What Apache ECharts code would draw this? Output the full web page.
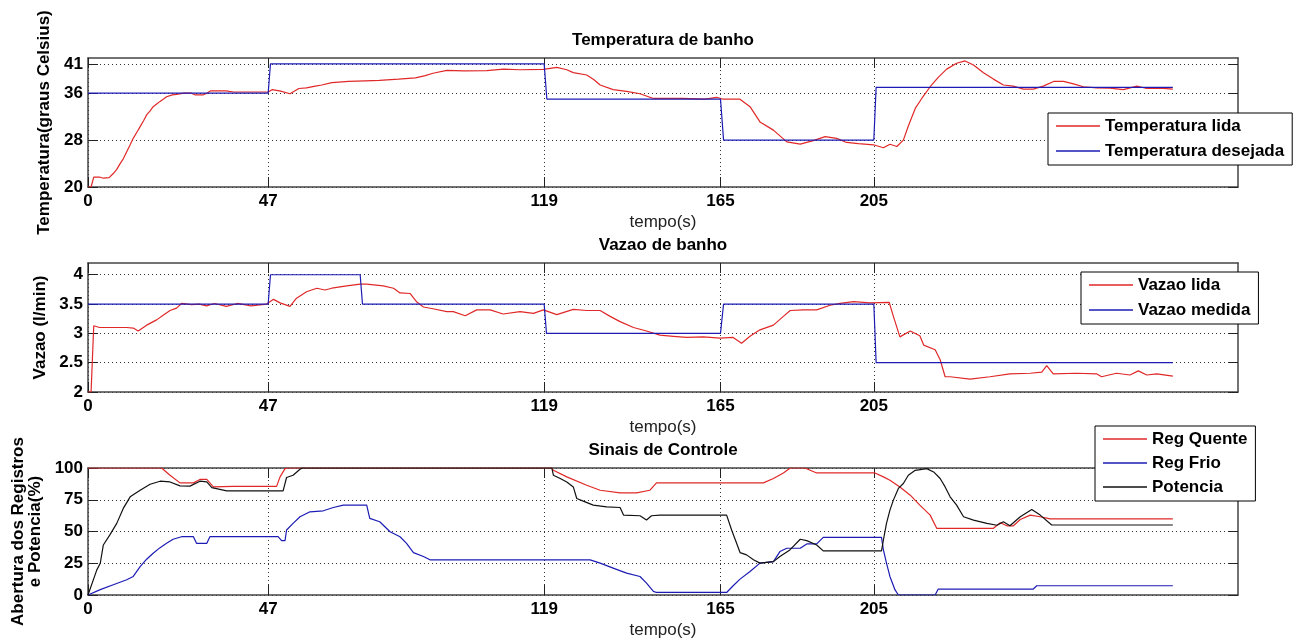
<!DOCTYPE html>
<html><head><meta charset="utf-8">
<script src="https://cdn.jsdelivr.net/npm/echarts@6/dist/echarts.min.js"></script>
<style>html,body{margin:0;padding:0;background:#fff}#c{width:1303px;height:644px}</style>
</head><body><div id="c"></div>
<script>
// ---- tick values ----
const xTicks = [0, 47, 119, 165, 205];
const yTicksTemp = [20, 28, 36, 41];
const yTicksVazao = [2, 2.5, 3, 3.5, 4];
const yTicksCtrl = [0, 25, 50, 75, 100];

// ---- Temperatura de banho ----
const tempLida = [[0,20],[0.8,20],[1.5,21.7],[3,21.7],[4,21.5],[5.5,21.6],[6.6,22.3],[7.5,23],[8.3,23.9],[9.2,24.8],[10.1,26],[11,27.2],[11.8,28.3],[12.7,29.3],[13.6,30.3],[14.5,31.3],[15.3,32.3],[16.2,33],[17,33.7],[18,34.2],[18.8,34.6],[19.7,35],[20.5,35.4],[22,35.7],[23.1,35.8],[25,36],[27,36],[28,35.7],[30,35.7],[31,36],[32,36.4],[36,36.4],[38,36.2],[47,36.2],[48,36.6],[50,36.4],[52.7,35.9],[55,36.8],[57,36.9],[59.3,37.2],[61,37.4],[63.6,37.8],[68,38],[72.3,38.1],[76,38.2],[81,38.4],[85.4,38.6],[88,39],[90,39.4],[93.6,39.9],[98,39.8],[104,39.85],[108.4,40.1],[112.7,40],[118.8,40.05],[122.3,40.4],[124.9,40],[126.6,39.5],[130.1,39.1],[132,38.3],[133.6,37.4],[137,36.6],[140.5,36.3],[144,35.9],[147.5,35.1],[155,35.1],[161,35],[164,35.3],[165.5,35],[170,35],[172.7,33.7],[175.3,31.1],[178.8,29.7],[182.3,27.7],[185.8,27.3],[189.2,27.9],[192.3,28.6],[195.3,28.3],[197.9,27.6],[201,27.4],[204.9,27.2],[207.5,26.7],[209.2,27.3],[211,26.9],[212.7,28],[214,30.4],[215.8,33.4],[217.5,35.1],[219.7,37.1],[221.8,38.7],[224,40.1],[226.6,41.1],[228.8,41.5],[231,40.8],[233.6,39.5],[236.2,38.4],[238.8,37.4],[241.4,37.2],[244,36.7],[246.6,36.7],[249.2,37.2],[251.9,38],[254.5,38],[257.1,37.6],[259.7,37.1],[263.1,36.9],[266.6,36.85],[270.1,36.6],[273.6,37.2],[276.2,36.8],[279.7,36.85],[283,36.7]];
const tempDesejada = [[0,36],[47,36],[47.6,41],[119,41],[119.7,35],[165,35],[165.8,28],[205,28],[205.6,37],[283,37]];

// ---- Vazao de banho ----
const vazaoLida = [[0,2],[0.8,2],[1.5,3.13],[3,3.1],[4.9,3.1],[10.1,3.1],[11.8,3.09],[13.1,3.04],[15.3,3.14],[17.9,3.23],[19.6,3.31],[21.4,3.39],[23.1,3.43],[24.4,3.51],[27,3.49],[29,3.5],[30.9,3.47],[33,3.51],[36.1,3.46],[39,3.51],[42.5,3.47],[46.6,3.5],[48.4,3.58],[50.1,3.52],[52.7,3.46],[54.4,3.6],[57,3.71],[59.7,3.77],[61.8,3.74],[63.6,3.77],[67.5,3.81],[71,3.84],[72.7,3.84],[77,3.81],[79.7,3.77],[81.4,3.69],[84,3.68],[85.7,3.54],[87.5,3.45],[90,3.42],[93.6,3.37],[95.3,3.37],[98.4,3.3],[101.4,3.4],[104.9,3.4],[108.3,3.33],[112.7,3.37],[116.2,3.34],[118.8,3.4],[122.3,3.32],[126.6,3.41],[130.1,3.39],[133.6,3.39],[136.2,3.29],[138.8,3.2],[142.3,3.1],[145.7,3.04],[149.2,2.97],[152.7,2.95],[156.2,2.93],[160.5,2.94],[164.9,2.92],[168.3,2.93],[170.5,2.83],[172.7,2.95],[175.3,3.06],[178.8,3.14],[181.4,3.29],[183.2,3.39],[186.6,3.4],[190.1,3.4],[193.6,3.48],[196.2,3.51],[199.7,3.54],[204,3.52],[209,3.53],[210.1,3.29],[211.8,2.94],[214.5,3.04],[217,2.96],[218,2.8],[221,2.72],[222.3,2.55],[223.6,2.26],[224.9,2.26],[230.1,2.22],[235.3,2.26],[240.5,2.31],[245.8,2.32],[248.8,2.34],[250.1,2.45],[251.8,2.31],[257.9,2.32],[263.1,2.31],[264.4,2.26],[268.3,2.32],[271.8,2.29],[274,2.36],[276.2,2.29],[278.8,2.31],[283,2.27]];
const vazaoMedida = [[0,3.5],[47,3.5],[47.6,4],[71,4],[71.6,3.5],[119,3.5],[119.6,3],[165,3],[165.8,3.5],[205,3.5],[205.6,2.5],[283,2.5]];

// ---- Sinais de Controle ----
const regQuente = [[0,100],[19.2,100],[21.4,94.3],[24,88.3],[27.5,88.3],[29.2,91],[31,91],[32.7,85.1],[37.9,85.5],[49.2,85.5],[50.1,93],[51.4,99.5],[52,100],[121,100],[121.4,98.2],[124.9,93],[130.1,86.4],[133.6,82.5],[138.8,80.4],[143.1,80.4],[146.6,82.5],[148.3,88.3],[176.2,88.3],[178.8,91.7],[181.4,96.1],[183.2,100],[187,100],[190.1,96.1],[205.3,96.1],[207.5,93],[209.2,90.4],[211.8,85.1],[214.5,78.6],[217,70.8],[219.7,62.9],[221.4,52.5],[236.2,52.5],[238,56.9],[239.7,54.5],[241.4,54.5],[243.2,59.5],[245.8,62.9],[248.4,61.6],[251,60],[283,60]];
const regFrio = [[0,0],[0.5,0],[3.2,4.2],[6.6,8.1],[10.1,12],[11.8,14.6],[13.6,22.4],[15.3,28.2],[17,32.9],[18.8,37.3],[20.5,40.7],[22.2,43.9],[24.4,45.9],[27.5,45.9],[28.3,40.7],[31,40.7],[31.8,45.9],[49.6,45.9],[50.5,42.8],[51.4,42.8],[51.8,51.2],[53.5,56.4],[55.3,61.6],[57.9,65.5],[61.4,66.3],[64,68.9],[66.6,70.8],[72.7,70.8],[73.5,60.3],[76.1,57.7],[78.8,49.8],[81.4,45.9],[83.1,40.7],[84.9,33.4],[87.5,30.3],[89.2,27.7],[131,27.7],[133.6,25.1],[137,21.2],[140.5,17.2],[144,14.6],[145.7,9.4],[147.5,2.8],[148.3,2],[166.6,2],[168.3,7.3],[170.1,12.5],[172.7,18.5],[175.3,25.1],[178.8,26.3],[180.5,34.2],[182.3,36.8],[185.8,36.8],[187.5,40.2],[190.1,40.2],[191.8,45.4],[207,45.4],[207.5,35.5],[208.3,25.1],[209.2,14.6],[210.5,4.2],[211.4,0],[221,0],[221.8,4.7],[246.6,4.7],[247.5,7.3],[283,7.3]];
const potencia = [[0,0],[0.5,0],[2.3,19.8],[3.2,25],[4,39.4],[5.7,47.3],[7.5,56.4],[9.2,68.2],[11,77.3],[13.6,82.5],[16.2,87.2],[18.8,89.6],[21.4,89],[24,85.9],[26.6,85.7],[29.2,89.6],[31,89],[32.3,84.6],[36.2,82],[50.9,82],[51.8,92.5],[53.5,94.3],[55.3,99],[56,100],[121,100],[121.4,94.3],[123.2,91.7],[124.9,89],[126.6,85.1],[127.5,76],[129.2,73.9],[131.8,70.8],[135.3,69.4],[138.8,68.9],[139.7,62.9],[144,62.4],[145.7,59],[147,62.4],[149.2,62.9],[166.6,62.9],[167.9,51.2],[169.2,40.7],[170.1,33.4],[171.8,31.6],[173.6,27.7],[175.3,25.1],[178.8,26.3],[180.5,30.3],[183.1,35.5],[185.8,43.9],[187.5,42.8],[190.1,39.4],[191.8,34.7],[207,34.7],[207.5,43.3],[208.3,56.4],[209.2,66.8],[210.1,74.7],[211.4,83.9],[212.7,87.8],[214,94.3],[215.8,98.2],[218.8,99.5],[220.6,96.9],[222.3,91.7],[223.6,85.1],[224.9,77.3],[226.6,70.8],[228.4,61.6],[231,59],[234.5,56.4],[237.1,54.9],[238.8,57.7],[240.5,54.5],[243.2,61.6],[246.2,67.4],[248.4,62.9],[251.4,55.1],[283,55.1]];

// ---- styling ----
const FONT = '"Liberation Sans", Arial, Helvetica, sans-serif';
const RED = '#e02828', BLUE = '#1c1cb4', BLACK = '#111111';
const AX = '#444444';

function xBottom(gi) {
  return {
    type: 'value', gridIndex: gi, min: 0, max: 300, position: 'bottom',
    name: 'tempo(s)', nameLocation: 'middle', nameGap: 27,
    nameTextStyle: { fontFamily: FONT, fontSize: 17, color: '#222' },
    axisLine: { show: true, onZero: false, lineStyle: { color: AX, width: 1.5 } },
    axisTick: { show: true, inside: true, length: 10, customValues: xTicks, lineStyle: { color: '#222' } },
    axisLabel: { customValues: xTicks, fontFamily: FONT, fontSize: 17, fontWeight: 'bold', color: '#000', margin: 6 },
    splitLine: { show: true, lineStyle: { type: [1, 3], color: '#333', width: 1 } }
  };
}
function xTop(gi, title) {
  return {
    type: 'value', gridIndex: gi, min: 0, max: 300, position: 'top',
    name: title, nameLocation: 'middle', nameGap: 9,
    nameTextStyle: { fontFamily: FONT, fontSize: 17, fontWeight: 'bold', color: '#000' },
    axisLine: { show: true, onZero: false, lineStyle: { color: AX, width: 1.5 } },
    axisTick: { show: true, inside: true, length: 10, customValues: xTicks, lineStyle: { color: '#222' } },
    axisLabel: { show: false },
    splitLine: { show: false }
  };
}
function yLeft(gi, min, max, ticks, name, gap) {
  return {
    type: 'value', gridIndex: gi, min: min, max: max, position: 'left',
    name: name, nameLocation: 'middle', nameGap: gap,
    nameTextStyle: { fontFamily: FONT, fontSize: 17, fontWeight: 'bold', color: '#000', lineHeight: 17 },
    axisLine: { show: true, onZero: false, lineStyle: { color: AX, width: 1.5 } },
    axisTick: { show: true, inside: true, length: 10, customValues: ticks, lineStyle: { color: '#222' } },
    axisLabel: { customValues: ticks, fontFamily: FONT, fontSize: 17, fontWeight: 'bold', color: '#000', margin: 5 },
    splitLine: { show: true, lineStyle: { type: [1, 3], color: '#333', width: 1 } }
  };
}
function yRight(gi, min, max, ticks) {
  return {
    type: 'value', gridIndex: gi, min: min, max: max, position: 'right',
    axisLine: { show: true, onZero: false, lineStyle: { color: AX, width: 1.5 } },
    axisTick: { show: true, inside: true, length: 10, customValues: ticks, lineStyle: { color: '#222' } },
    axisLabel: { show: false },
    splitLine: { show: false }
  };
}
function line(name, data, color, xi, yi, z) {
  return { name: name, type: 'line', xAxisIndex: xi, yAxisIndex: yi, data: data,
    symbol: 'none', showSymbol: false, color: color, z: z,
    lineStyle: { color: color, width: 1.2 }, animation: false };
}
function legend(names, left, top, gap) {
  return {
    data: names, orient: 'vertical', left: left, top: top,
    icon: 'rect', itemWidth: 44, itemHeight: 1.5, itemGap: gap,
    padding: [4, 8, 5, 8],
    backgroundColor: '#fff', borderColor: '#000', borderWidth: 1,
    textStyle: { fontFamily: FONT, fontSize: 17, fontWeight: 'bold', color: '#000', lineHeight: 18 },
    selectedMode: false
  };
}

const chart = echarts.init(document.getElementById('c'), null, { renderer: 'canvas' });
chart.setOption({
  animation: false,
  backgroundColor: '#fff',
  grid: [
    { left: 88, top: 58, width: 1150, height: 129 },
    { left: 88, top: 263, width: 1150, height: 129 },
    { left: 88, top: 468, width: 1150, height: 127 }
  ],
  xAxis: [xBottom(0), xTop(0, 'Temperatura de banho'), xBottom(1), xTop(1, 'Vazao de banho'), xBottom(2), xTop(2, 'Sinais de Controle')],
  yAxis: [
    yLeft(0, 20, 42, yTicksTemp, 'Temperatura(graus Celsius)', 35), yRight(0, 20, 42, yTicksTemp),
    yLeft(1, 2, 4.2, yTicksVazao, 'Vazao (l/min)', 37), yRight(1, 2, 4.2, yTicksVazao),
    yLeft(2, 0, 100, yTicksCtrl, 'Abertura dos Registros\ne Potencia(%)', 44), yRight(2, 0, 100, yTicksCtrl)
  ],
  legend: [
    legend(['Temperatura lida', 'Temperatura desejada'], 1048, 113, 7),
    legend(['Vazao lida', 'Vazao medida'], 1081, 272, 7),
    legend(['Reg Quente', 'Reg Frio', 'Potencia'], 1095, 426, 6)
  ],
  series: [
    line('Temperatura lida', tempLida, RED, 0, 0, 2),
    line('Temperatura desejada', tempDesejada, BLUE, 0, 0, 3),
    line('Vazao lida', vazaoLida, RED, 2, 2, 2),
    line('Vazao medida', vazaoMedida, BLUE, 2, 2, 3),
    line('Reg Quente', regQuente, RED, 4, 4, 2),
    line('Reg Frio', regFrio, BLUE, 4, 4, 3),
    line('Potencia', potencia, BLACK, 4, 4, 4)
  ]
});
</script>
</body></html>
